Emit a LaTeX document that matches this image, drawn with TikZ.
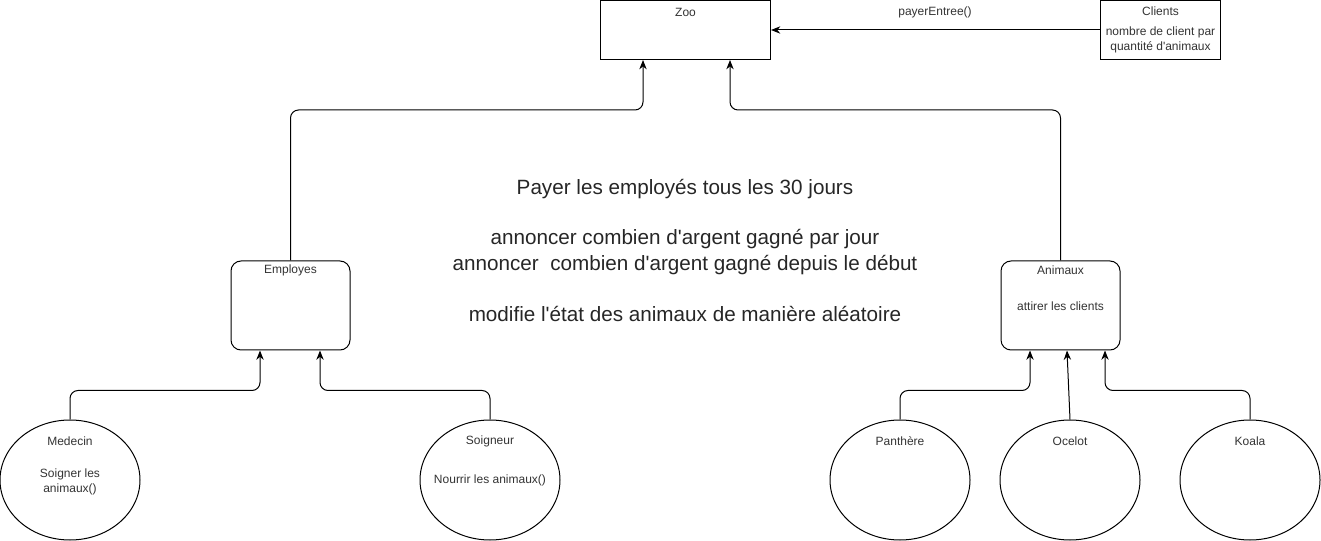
\documentclass[tikz,border=0pt]{standalone}
\usepackage{fontspec}
\setmainfont{Liberation Sans}
\usetikzlibrary{shapes.geometric,arrows.meta,calc}
\newcommand\sq{\textquotesingle}
\begin{document}
\begin{tikzpicture}[x=0.75pt,y=-0.75pt,
  every node/.style={font=\fontsize{9pt}{11pt}\selectfont, text=black!80},
  box/.style={draw, line width=0.75pt, inner sep=0pt},
  rbox/.style={box, rounded corners=7.5pt},
  oval/.style={draw, ellipse, line width=0.75pt, inner sep=0pt, minimum width=105pt, minimum height=90pt},
  arr/.style={line width=0.75pt, rounded corners=6pt, -{Stealth[length=7pt,width=5.5pt]}},
  big/.style={font=\fontsize{15.5pt}{19.5pt}\selectfont, text=black!85, align=center}]
\useasboundingbox (0,0) rectangle (1321,541);
% top boxes
\node[box, minimum width=127.5pt, minimum height=44.25pt] (zoo) at (685.5,30) {};
\node (zoot) at (685.5,12) {Zoo};
\node[box, minimum width=90pt, minimum height=44.25pt] (cli) at (1160.5,30) {};
\node (clit) at (1160.5,11) {Clients};
\node[align=center] (clid) at (1160.5,40) {nombre de client par\\quantité d\sq animaux};
\draw[arr] (cli.west) -- (zoo.east);
\node (pay) at (935,12) {payerEntree()};
% middle boxes
\node[rbox, minimum width=89.25pt, minimum height=66.75pt] (emp) at (290.5,305.5) {};
\node (empt) at (290.5,270) {Employes};
\node[rbox, minimum width=89.25pt, minimum height=66.75pt] (ani) at (1060.5,305.5) {};
\node (anit) at (1060.5,270) {Animaux};
\node (anid) at (1060.5,306) {attirer les clients};
% center text
\node[big] (t1) at (685,189) {Payer les employés tous les 30 jours};
\node[big] (t2) at (685,252) {annoncer combien d\sq argent gagné par jour\\annoncer\ \ combien d\sq argent gagné depuis le début};
\node[big] (t3) at (685,314) {modifie l\sq état des animaux de manière aléatoire};
% ovals
\node[oval] (med) at (70,480) {};
\node (medt) at (70,441) {Medecin};
\node[align=center] (medd) at (70,482) {Soigner les\\animaux()};
\node[oval] (soi) at (490,480) {};
\node (soit) at (490,441) {Soigneur};
\node (soid) at (490,480) {Nourrir les animaux()};
\node[oval] (pan) at (900,480) {};
\node (pant) at (900,441) {Panthère};
\node[oval] (oce) at (1070,480) {};
\node (ocet) at (1070,441) {Ocelot};
\node[oval] (koa) at (1250,480) {};
\node (koat) at (1250,441) {Koala};
% connectors to Zoo
\draw[arr] (emp.north) |- ($(zoo.south)+(-42.5,50)$) -- ($(zoo.south)+(-42.5,0)$);
\draw[arr] (ani.north) |- ($(zoo.south)+(44.5,50)$) -- ($(zoo.south)+(44.5,0)$);
% connectors to Employes
\draw[arr] (med.north) |- ($(emp.south)+(-30.5,40)$) -- ($(emp.south)+(-30.5,0)$);
\draw[arr] (soi.north) |- ($(emp.south)+(29.5,40)$) -- ($(emp.south)+(29.5,0)$);
% connectors to Animaux
\draw[arr] (pan.north) |- ($(ani.south)+(-30.5,40)$) -- ($(ani.south)+(-30.5,0)$);
\draw[arr] (oce.north) -- ($(ani.south)+(6.5,0)$);
\draw[arr] (koa.north) |- ($(ani.south)+(44.5,40)$) -- ($(ani.south)+(44.5,0)$);
\end{tikzpicture}
\end{document}
